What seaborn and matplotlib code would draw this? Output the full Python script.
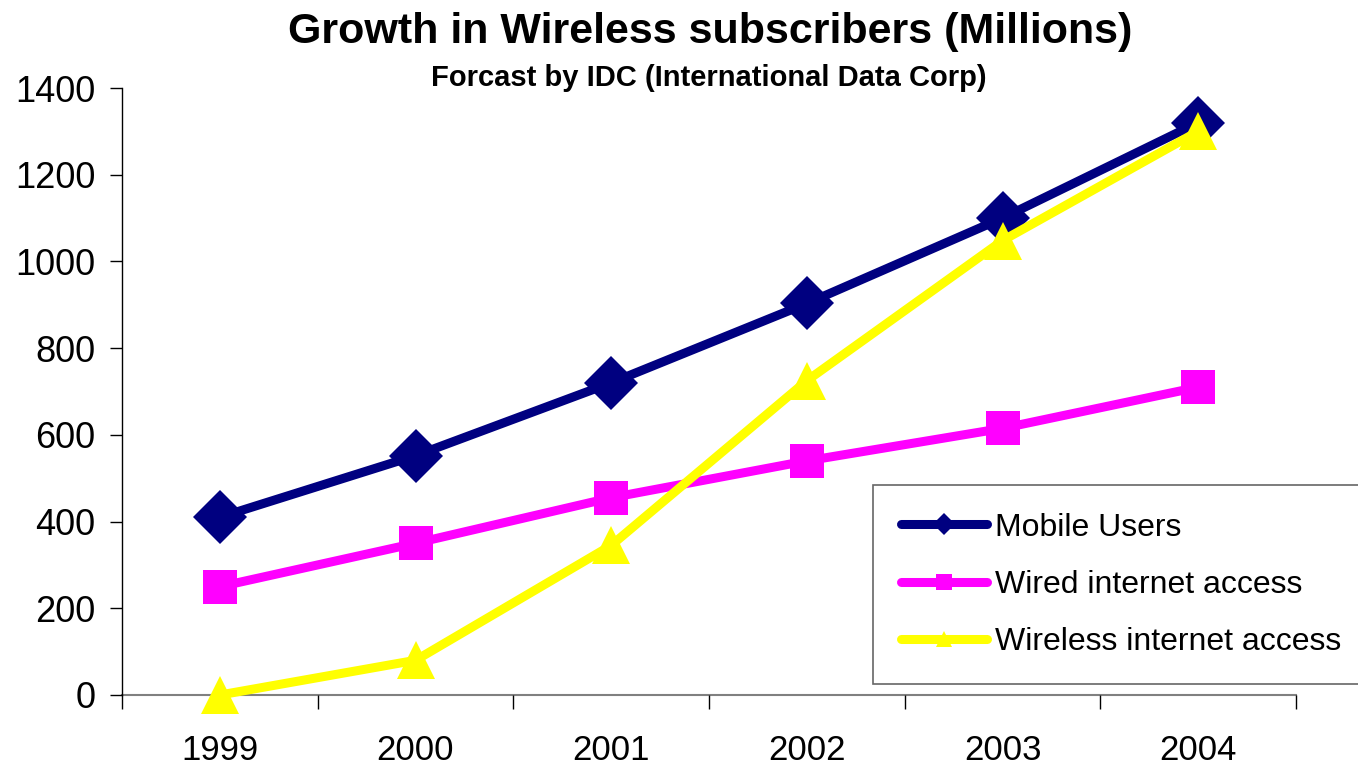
import matplotlib
matplotlib.use("Agg")
import matplotlib.pyplot as plt
import seaborn as sns
import pandas as pd
from matplotlib.ticker import FixedLocator

years = [1999, 2000, 2001, 2002, 2003, 2004]
mobile_users = [410, 552, 720, 903, 1100, 1320]
wired_access = [250, 350, 455, 540, 615, 710]
wireless_access = [0, 80, 345, 725, 1048, 1300]
series_names = ["Mobile Users", "Wired internet access", "Wireless internet access"]
y_ticks = [0, 200, 400, 600, 800, 1000, 1200, 1400]

df = pd.DataFrame({
    "Year": years * 3,
    "Value": mobile_users + wired_access + wireless_access,
    "Series": [series_names[0]] * 6 + [series_names[1]] * 6 + [series_names[2]] * 6,
})

sns.set_theme(style="white", rc={"text.color": "black", "xtick.color": "black",
                                 "ytick.color": "black", "axes.labelcolor": "black"})
plt.rcParams["font.family"] = ["Liberation Sans", "DejaVu Sans"]

fig = plt.figure(figsize=(13.58, 7.67), dpi=100)
ax = fig.add_axes([122 / 1358, 72 / 767, 1174 / 1358, 607 / 767])

palette = {series_names[0]: "#000080", series_names[1]: "#FF00FF", series_names[2]: "#FFFF00"}
markers = {series_names[0]: "D", series_names[1]: "s", series_names[2]: "^"}

sns.lineplot(data=df, x="Year", y="Value", hue="Series", style="Series",
             palette=palette, markers=markers, dashes=False, ax=ax,
             linewidth=6.5, markersize=24, markeredgewidth=0, legend=True)
for ln in ax.lines:
    ln.set_clip_on(False)
    if ln.get_marker() in ("D", "^"):
        ln.set_markersize(27)

ax.set_xlim(1998.5, 2004.5)
ax.set_ylim(0, 1400)
ax.set_yticks(y_ticks)
ax.set_yticklabels([str(v) for v in y_ticks], fontsize=26)
ax.set_xticks(years)
ax.set_xticklabels([str(y) for y in years], fontsize=25)
ax.xaxis.set_minor_locator(FixedLocator([1998.5 + i for i in range(7)]))
ax.tick_params(axis="x", which="major", length=0, pad=28)
ax.tick_params(axis="x", which="minor", length=10, width=1, color="black", direction="out", bottom=True)
ax.tick_params(axis="y", which="major", length=9, width=1, color="black", direction="out", left=True, pad=10)
ax.set_xlabel("")
ax.set_ylabel("")
for s in ["top", "right"]:
    ax.spines[s].set_visible(False)
ax.spines["left"].set_color("black")
ax.spines["left"].set_linewidth(1)
ax.spines["bottom"].set_color("#808080")
ax.spines["bottom"].set_linewidth(1.5)
ax.spines["bottom"].set_zorder(0)
ax.grid(False)

handles, labels = ax.get_legend_handles_labels()
leg = ax.legend(handles, labels, loc="lower left", bbox_to_anchor=(0.64, 0.018),
                borderaxespad=0, fontsize=23, frameon=True, fancybox=False,
                handlelength=2.7, handletextpad=0.25, labelspacing=0.85,
                borderpad=0.85)
leg.get_frame().set_edgecolor("#404040")
leg.get_frame().set_linewidth(1.2)
leg.set_zorder(10)
for line in leg.get_lines():
    line.set_markersize(11)
    line.set_linewidth(6.5)
    line.set_solid_capstyle("round")

fig.text(0.523, 0.985, "Growth in Wireless subscribers (Millions)", ha="center", va="top",
         fontsize=31, fontweight="bold")
fig.text(0.522, 0.916, "Forcast by IDC (International Data Corp)", ha="center", va="top",
         fontsize=21, fontweight="bold")

fig.savefig("out.png", dpi=100, facecolor="white")
